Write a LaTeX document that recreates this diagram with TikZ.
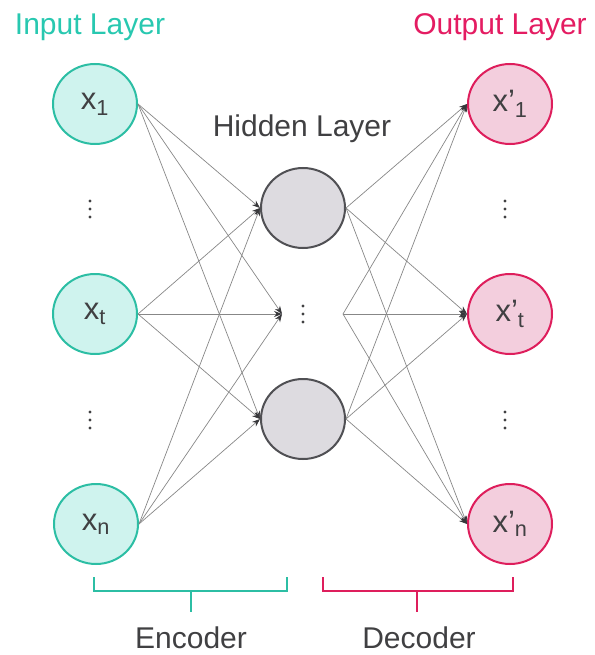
\documentclass[tikz,border=0pt]{standalone}
\usepackage{fontspec}
\setmainfont{Liberation Sans}
\usetikzlibrary{shapes.geometric,arrows.meta}

\definecolor{inedge}{RGB}{44,190,164}
\definecolor{infill}{RGB}{207,243,238}
\definecolor{intitle}{RGB}{40,200,176}
\definecolor{outedge}{RGB}{222,30,92}
\definecolor{outfill}{RGB}{243,206,221}
\definecolor{outtitle}{RGB}{228,28,98}
\definecolor{hidedge}{RGB}{80,80,84}
\definecolor{hidfill}{RGB}{221,219,224}
\definecolor{txtgray}{RGB}{64,64,66}
\definecolor{linegray}{RGB}{135,135,135}
\definecolor{tipgray}{RGB}{55,55,58}

\begin{document}
\begin{tikzpicture}[
  x=1pt, y=-1pt,
  >={Stealth[length=8pt,width=6pt,color=tipgray]},
  unit/.style={ellipse,line width=2pt,minimum width=84pt,minimum height=80pt,
    inner sep=0pt,text=txtgray,font=\fontsize{31}{31}\selectfont},
  innode/.style={unit,draw=inedge,fill=infill},
  hidnode/.style={unit,draw=hidedge,fill=hidfill},
  outnode/.style={unit,draw=outedge,fill=outfill},
  edge/.style={->,draw=linegray,line width=0.7pt},
  title/.style={anchor=base,font=\fontsize{30}{30}\selectfont},
  bracket/.style={line width=1.8pt}
]
  \useasboundingbox (0,0) rectangle (594,655);

  % layers
  \node[innode] (in1) at (95,104) {x\textsubscript{1}};
  \node[innode] (int) at (95,314) {x\textsubscript{t}};
  \node[innode] (inn) at (96,524) {x\textsubscript{n}};
  \node[hidnode] (h1) at (303,208) {};
  \node[hidnode] (h2) at (303,419) {};
  \coordinate (hl) at (282,314);
  \coordinate (hr) at (343,314);
  \node[outnode] (out1) at (510,104) {x’\textsubscript{1}};
  \node[outnode] (outt) at (510,314) {x’\textsubscript{t}};
  \node[outnode] (outn) at (510,524) {x’\textsubscript{n}};

  % encoder and decoder weights
  \foreach \s in {in1,int,inn}{
    \foreach \t in {h1,h2} \draw[edge] (\s.east) -- (\t.west);
    \draw[edge] (\s.east) -- (hl);
  }
  \foreach \t in {out1,outt,outn}{
    \foreach \s in {h1,h2} \draw[edge] (\s.east) -- (\t.west);
    \draw[edge] (hr) -- (\t.west);
  }

  % vertical dots
  \foreach \p in {(90,209),(505,209),(303,314),(90,420),(505,420)}
    \fill[txtgray] \p ++(0,-8) circle (1.7pt) ++(0,8) circle (1.7pt) ++(0,8) circle (1.7pt);

  % titles
  \node[title,text=intitle] (intitle) at (90,35) {Input Layer};
  \node[title,text=outtitle] (outtitle) at (500,35) {Output Layer};
  \node[title,text=txtgray] (hidtitle) at (302,137) {Hidden Layer};

  % brackets
  \draw[bracket,draw=inedge] (94,577) |- (287,591) -- (287,577) (191,591) -- (191,612);
  \draw[bracket,draw=outedge] (323,577) |- (513,591) -- (513,577) (417,591) -- (417,612);
  \node[title,text=txtgray] (enc) at (191,648) {Encoder};
  \node[title,text=txtgray] (dec) at (419,648) {Decoder};
\end{tikzpicture}
\end{document}
